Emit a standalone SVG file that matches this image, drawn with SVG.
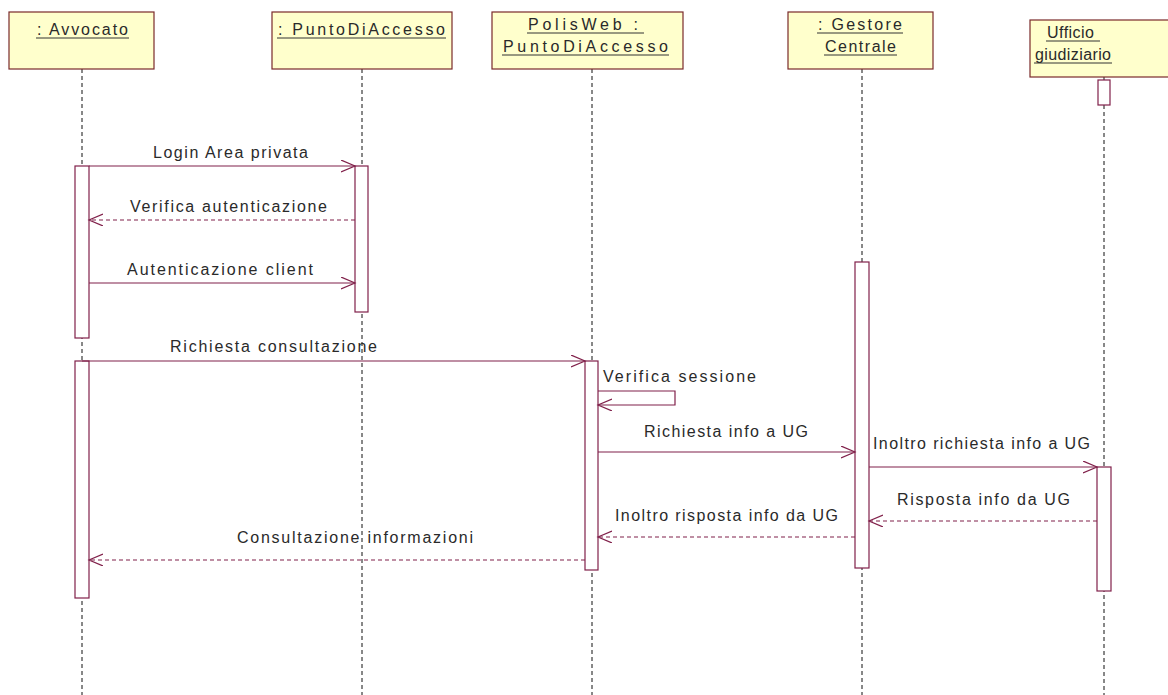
<svg xmlns="http://www.w3.org/2000/svg" width="1168" height="695" viewBox="0 0 1168 695">
  <style>
    .obj { fill: #ffffcc; stroke: #7a2a2a; stroke-width: 1.2; }
    .lbl { font-family: "Liberation Sans", Arial, sans-serif; font-size: 16px; fill: #2a2a2a; }
    .uline { stroke: #333; stroke-width: 1; }
    .life { stroke: #111; stroke-width: 1; stroke-dasharray: 4 3; fill: none; }
    .act { fill: #ffffff; stroke: #80204a; stroke-width: 1.2; }
    .msg { stroke: #80204a; stroke-width: 1.2; fill: none; }
    .ret { stroke: #80204a; stroke-width: 1.2; fill: none; stroke-dasharray: 4 3; }
  </style>
  <defs>
    <marker id="open" markerUnits="userSpaceOnUse" markerWidth="16" markerHeight="14" refX="14" refY="6" orient="auto">
      <path d="M0,0 L14,6 L0,12" fill="none" stroke="#80204a" stroke-width="1.2"/>
    </marker>
  </defs>
  <rect width="1168" height="695" fill="#ffffff"/>

  <!-- lifelines -->
  <g id="lifelines">
    <line class="life" x1="82" y1="69" x2="82" y2="695"/>
    <line class="life" x1="362" y1="69" x2="362" y2="695"/>
    <line class="life" x1="592" y1="69" x2="592" y2="695"/>
    <line class="life" x1="862" y1="69" x2="862" y2="695"/>
    <line class="life" x1="1104" y1="77" x2="1104" y2="695"/>
  </g>

  <!-- objects -->
  <g id="avvocato">
    <rect class="obj" x="9" y="12" width="145" height="57"/>
    <text class="lbl" x="37" y="35" textLength="91" lengthAdjust="spacing">: Avvocato</text>
    <line class="uline" x1="36" y1="38" x2="129" y2="38"/>
  </g>
  <g id="punto-di-accesso">
    <rect class="obj" x="272" y="12" width="180" height="57"/>
    <text class="lbl" x="278" y="35" textLength="167" lengthAdjust="spacing">: PuntoDiAccesso</text>
    <line class="uline" x1="277" y1="38" x2="446" y2="38"/>
  </g>
  <g id="polisweb">
    <rect class="obj" x="492" y="12" width="191" height="57"/>
    <text class="lbl" x="528" y="30" textLength="110" lengthAdjust="spacing">PolisWeb :</text>
    <line class="uline" x1="527" y1="33" x2="644" y2="33"/>
    <text class="lbl" x="503" y="52" textLength="165" lengthAdjust="spacing">PuntoDiAccesso</text>
    <line class="uline" x1="502" y1="55" x2="669" y2="55"/>
  </g>
  <g id="gestore-centrale">
    <rect class="obj" x="788" y="12" width="145" height="57"/>
    <text class="lbl" x="818" y="30" textLength="84" lengthAdjust="spacing">: Gestore</text>
    <line class="uline" x1="817" y1="33" x2="903" y2="33"/>
    <text class="lbl" x="825" y="52" textLength="71" lengthAdjust="spacing">Centrale</text>
    <line class="uline" x1="824" y1="55" x2="897" y2="55"/>
  </g>
  <g id="ufficio-giudiziario">
    <rect class="obj" x="1030" y="20" width="142" height="57"/>
    <text class="lbl" x="1047" y="38" textLength="47" lengthAdjust="spacing">Ufficio</text>
    <line class="uline" x1="1046" y1="41" x2="1100" y2="41"/>
    <text class="lbl" x="1035" y="60" textLength="76" lengthAdjust="spacing">giudiziario</text>
    <line class="uline" x1="1034" y1="63" x2="1112" y2="63"/>
    <rect class="act" x="1098" y="80" width="12" height="25"/>
  </g>

  <!-- activations -->
  <g id="activations">
    <rect class="act" x="75" y="166" width="14" height="172"/>
    <rect class="act" x="75" y="361" width="14" height="237"/>
    <rect class="act" x="355" y="166" width="13" height="146"/>
    <rect class="act" x="585" y="361" width="13" height="209"/>
    <rect class="act" x="855" y="262" width="14" height="306"/>
    <rect class="act" x="1097" y="467" width="14" height="124"/>
  </g>

  <!-- messages -->
  <g id="connectors">
    <line class="msg" x1="89" y1="166" x2="355" y2="166" marker-end="url(#open)"/>
    <line class="ret" x1="355" y1="220" x2="89" y2="220" marker-end="url(#open)"/>
    <line class="msg" x1="89" y1="283" x2="355" y2="283" marker-end="url(#open)"/>
    <line class="msg" x1="82" y1="361" x2="585" y2="361" marker-end="url(#open)"/>
    <polyline class="msg" points="598,391 675,391 675,405 598,405" marker-end="url(#open)"/>
    <line class="msg" x1="598" y1="452" x2="855" y2="452" marker-end="url(#open)"/>
    <line class="msg" x1="869" y1="467" x2="1097" y2="467" marker-end="url(#open)"/>
    <line class="ret" x1="1097" y1="521" x2="869" y2="521" marker-end="url(#open)"/>
    <line class="ret" x1="855" y1="537" x2="598" y2="537" marker-end="url(#open)"/>
    <line class="ret" x1="585" y1="560" x2="89" y2="560" marker-end="url(#open)"/>
  </g>

  <!-- message labels -->
  <g id="message-labels">
    <text class="lbl" x="153" y="158" textLength="155" lengthAdjust="spacing">Login Area privata</text>
    <text class="lbl" x="130" y="212" textLength="197" lengthAdjust="spacing">Verifica autenticazione</text>
    <text class="lbl" x="127" y="275" textLength="186" lengthAdjust="spacing">Autenticazione client</text>
    <text class="lbl" x="170" y="352" textLength="207" lengthAdjust="spacing">Richiesta consultazione</text>
    <text class="lbl" x="603" y="382" textLength="153" lengthAdjust="spacing">Verifica sessione</text>
    <text class="lbl" x="644" y="437" textLength="164" lengthAdjust="spacing">Richiesta info a UG</text>
    <text class="lbl" x="873" y="449" textLength="217" lengthAdjust="spacing">Inoltro richiesta info a UG</text>
    <text class="lbl" x="897" y="505" textLength="173" lengthAdjust="spacing">Risposta info da UG</text>
    <text class="lbl" x="615" y="521" textLength="223" lengthAdjust="spacing">Inoltro risposta info da UG</text>
    <text class="lbl" x="237" y="543" textLength="236" lengthAdjust="spacing">Consultazione informazioni</text>
  </g>
</svg>
